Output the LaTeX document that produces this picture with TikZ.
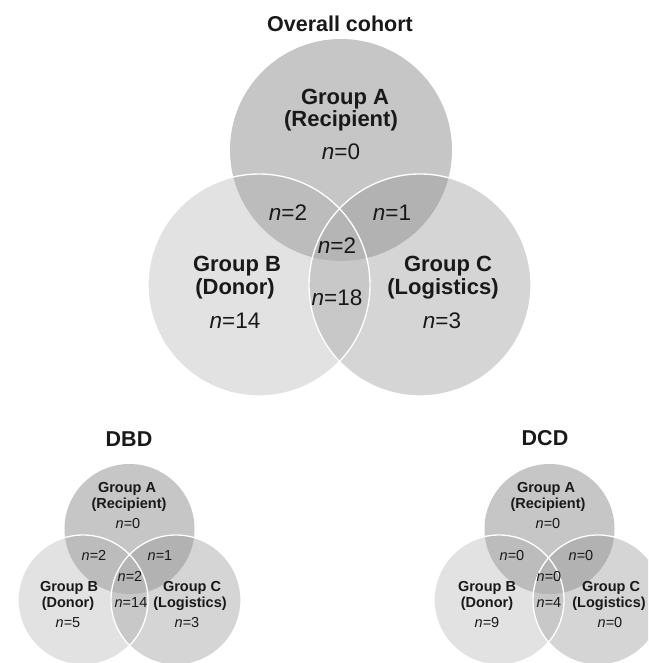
\documentclass[tikz,border=0pt]{standalone}
\usepackage{fontspec}
\setmainfont{Liberation Sans}
\definecolor{cA}{RGB}{198,198,198}
\definecolor{cB}{RGB}{226,226,226}
\definecolor{cC}{RGB}{213,213,213}
\definecolor{cAB}{RGB}{188,188,188}
\definecolor{cAC}{RGB}{178,178,178}
\definecolor{cBC}{RGB}{200,200,200}
\definecolor{cABC}{RGB}{181,181,181}
\definecolor{ink}{RGB}{25,25,25}
\newcommand\nn[1]{\textit{n}=#1}
\newcommand\myvenn[7]{%
  \fill[cA] (#1,#2) circle[radius=#7pt];
  \fill[cB] (#3,#4) circle[radius=#7pt];
  \fill[cC] (#5,#6) circle[radius=#7pt];
  \begin{scope}
    \clip (#1,#2) circle[radius=#7pt];
    \fill[cAB] (#3,#4) circle[radius=#7pt];
    \fill[cAC] (#5,#6) circle[radius=#7pt];
  \end{scope}
  \begin{scope}
    \clip (#3,#4) circle[radius=#7pt];
    \fill[cBC] (#5,#6) circle[radius=#7pt];
    \clip (#1,#2) circle[radius=#7pt];
    \fill[cABC] (#5,#6) circle[radius=#7pt];
  \end{scope}
  \draw[rim] (#3,#4) circle[radius=#7pt];
  \draw[rim] (#5,#6) circle[radius=#7pt];
}
\begin{document}
\begin{tikzpicture}[x=1pt,y=-1pt,
  every node/.style={inner sep=0pt, outer sep=0pt, text=ink},
  ttl/.style={font=\fontsize{21.5}{24}\selectfont\bfseries, anchor=base},
  bgrp/.style={font=\fontsize{22}{25}\selectfont\bfseries, anchor=base},
  bnum/.style={font=\fontsize{22.5}{25}\selectfont, anchor=base},
  sgrp/.style={font=\fontsize{14.5}{16}\selectfont\bfseries, anchor=base},
  snum/.style={font=\fontsize{14.5}{16}\selectfont, anchor=base},
  rim/.style={draw=white, line width=1.3pt}]
\useasboundingbox (0,0) rectangle (648,663);
\fill[white] (0,0) rectangle (648,663);
\clip (0,0) rectangle (648,663);

% Overall cohort
\myvenn{341}{150}{259}{285}{420}{285}{111}
\node[ttl] (t0) at (340,32) {Overall cohort};
\node[bgrp] (a0g) at (345,105) {Group A};
\node[bgrp] (a0r) at (341,127) {(Recipient)};
\node[bnum] (a0n) at (341,160) {\nn{0}};
\node[bnum] (ab0) at (288,220) {\nn{2}};
\node[bnum] (ac0) at (392,220) {\nn{1}};
\node[bnum] (abc0) at (337,253) {\nn{2}};
\node[bnum] (bc0) at (337,305) {\nn{18}};
\node[bgrp] (b0g) at (237,271) {Group B};
\node[bgrp] (b0r) at (235,294) {(Donor)};
\node[bnum] (b0n) at (235,328) {\nn{14}};
\node[bgrp] (c0g) at (448,271) {Group C};
\node[bgrp] (c0r) at (443,294) {(Logistics)};
\node[bnum] (c0n) at (442,328) {\nn{3}};

% DBD
\myvenn{129.5}{529}{83}{600}{176}{600}{65}
\node[ttl] (t1) at (129,446) {DBD};
\node[sgrp] (a1g) at (127,492.5) {Group A};
\node[sgrp] (a1r) at (129,508.5) {(Recipient)};
\node[snum] (a1n) at (128,528) {\nn{0}};
\node[snum] (ab1) at (94,560) {\nn{2}};
\node[snum] (ac1) at (160,560) {\nn{1}};
\node[snum] (abc1) at (130,581) {\nn{2}};
\node[snum] (bc1) at (131,607) {\nn{14}};
\node[sgrp] (b1g) at (69,591.5) {Group B};
\node[sgrp] (b1r) at (68,607.5) {(Donor)};
\node[snum] (b1n) at (68,627) {\nn{5}};
\node[sgrp] (c1g) at (192,591.5) {Group C};
\node[sgrp] (c1r) at (190,607.5) {(Logistics)};
\node[snum] (c1n) at (187,627) {\nn{3}};

% DCD
\myvenn{549.5}{529}{499}{600}{598}{600}{65}
\node[ttl] (t2) at (545,445) {DCD};
\node[sgrp] (a2g) at (546,492.5) {Group A};
\node[sgrp] (a2r) at (548,508.5) {(Recipient)};
\node[snum] (a2n) at (548,528) {\nn{0}};
\node[snum] (ab2) at (512,560) {\nn{0}};
\node[snum] (ac2) at (581,560) {\nn{0}};
\node[snum] (abc2) at (549,581) {\nn{0}};
\node[snum] (bc2) at (549,607) {\nn{4}};
\node[sgrp] (b2g) at (487,591.5) {Group B};
\node[sgrp] (b2r) at (487,607.5) {(Donor)};
\node[snum] (b2n) at (487,627) {\nn{9}};
\node[sgrp] (c2g) at (611,591.5) {Group C};
\node[sgrp] (c2r) at (609,607.5) {(Logistics)};
\node[snum] (c2n) at (610,627) {\nn{0}};
\end{tikzpicture}
\end{document}
